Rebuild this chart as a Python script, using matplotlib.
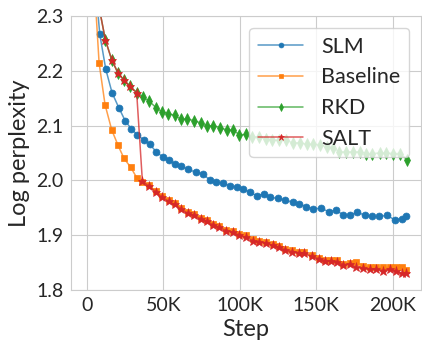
import matplotlib
matplotlib.use('agg')
import matplotlib.pyplot as plt
import seaborn as sns
from matplotlib.colors import to_rgba

sns.set_style("whitegrid")
plt.rcParams['font.family'] = ['Lato', 'DejaVu Sans']

# values
slm_steps = [4300, 8470, 12390, 16500, 20860, 25230, 29140, 33050, 37160, 41070, 45440,
             49540, 53650, 57820, 61730, 66040, 71250, 75820, 80180, 84550, 89310,
             93870, 98240, 102350, 106720, 111020, 115580, 119950, 124710, 129530,
             134490, 138850, 143220, 147990, 153000, 157960, 162780, 167740, 172100,
             176860, 181680, 186440, 191200, 196030, 201240, 206000, 208600]
slm = [2.40, 2.267, 2.203, 2.160, 2.133, 2.108, 2.094, 2.083, 2.074, 2.066, 2.052,
       2.043, 2.037, 2.029, 2.026, 2.020, 2.015, 2.012, 2.001, 1.997, 1.995,
       1.989, 1.988, 1.984, 1.978, 1.972, 1.975, 1.969, 1.967, 1.964,
       1.960, 1.957, 1.952, 1.948, 1.949, 1.943, 1.945, 1.937, 1.936,
       1.942, 1.936, 1.934, 1.934, 1.936, 1.928, 1.930, 1.934]

late_steps = [36310, 40610, 44980, 49090, 53460, 57370, 61740, 66040, 69950, 74320,
              78420, 82330, 86700, 91070, 95830, 99740, 104110, 108410, 112780, 117150,
              121450, 125360, 129730, 134100, 138400, 142120, 147130, 151440, 155800,
              159520, 163820, 167730, 171900, 176210, 180580, 184940, 189250, 193610,
              197980, 201890, 206200, 208420]

base_steps = [4000, 8040, 11930, 16300, 20410, 24320, 28680, 32590] + late_steps
baseline = [2.40, 2.214, 2.138, 2.092, 2.064, 2.040, 2.024, 2.005,
            1.997, 1.991, 1.980, 1.971, 1.964, 1.958, 1.949, 1.942, 1.938, 1.932,
            1.927, 1.921, 1.916, 1.910, 1.907, 1.902, 1.900, 1.893, 1.889, 1.888,
            1.883, 1.880, 1.875, 1.872, 1.870, 1.869, 1.863, 1.859, 1.855,
            1.855, 1.854, 1.848, 1.849, 1.850, 1.844, 1.841, 1.841, 1.841,
            1.841, 1.841, 1.841, 1.836]

early_steps = [4000, 8100, 12170, 16300, 20210, 24190, 28230, 32590]
early_vals = [2.60, 2.315, 2.256, 2.220, 2.197, 2.183, 2.172, 2.160]

rkd_steps = early_steps + [36700, 40620, 45180, 49090, 53000, 57370, 61280, 65650,
                           69950, 74320, 78430, 82790, 87160, 91460, 95830, 99740,
                           104100, 108020, 112780, 117150, 121060, 125360, 130180,
                           134490, 139310, 143610, 147980, 152350, 156650, 161020,
                           164930, 169300, 174060, 178420, 182730, 186640, 191460,
                           195760, 200130, 204500, 209260]
rkd = early_vals + [2.152, 2.145, 2.133, 2.125, 2.122, 2.119, 2.112, 2.112,
                    2.109, 2.105, 2.099, 2.100, 2.096, 2.092, 2.092, 2.083,
                    2.084, 2.079, 2.080, 2.075, 2.074, 2.073, 2.074,
                    2.068, 2.069, 2.066, 2.066, 2.065, 2.061, 2.060,
                    2.052, 2.052, 2.052, 2.052, 2.049, 2.049, 2.050,
                    2.050, 2.049, 2.049, 2.038]

salt_steps = early_steps + late_steps
salt = early_vals + [1.999, 1.989, 1.979, 1.969, 1.962, 1.956, 1.947, 1.940, 1.936, 1.930,
                     1.925, 1.919, 1.914, 1.908, 1.905, 1.900, 1.896, 1.890, 1.887, 1.886,
                     1.881, 1.878, 1.873, 1.870, 1.868, 1.867, 1.861, 1.857, 1.853,
                     1.853, 1.851, 1.846, 1.847, 1.841, 1.839, 1.838, 1.838, 1.835,
                     1.838, 1.835, 1.830, 1.830]

series = [
    ("SLM", slm_steps, slm, "#1f77b4", "o", 5),
    ("Baseline", base_steps, baseline, "#ff7f0e", "s", 5),
    ("RKD", rkd_steps, rkd, "#2ca02c", "d", 5.8),
    ("SALT", salt_steps, salt, "#d62728", "*", 6.5),
]

fig = plt.figure(figsize=(4.22, 3.43), dpi=100)
ax = fig.add_axes([0.168, 0.155, 0.83, 0.798])
for name, xs, ys, c, m, ms in series:
    ax.plot(xs, ys, label=name, color=to_rgba(c, 0.75), lw=1.1, marker=m, ms=ms,
            markerfacecolor=c, markeredgecolor=c, markeredgewidth=0.5)

ax.set_xlim(-10400, 218500)
ax.set_ylim(1.8, 2.3)
ax.set_xticks([0, 50000, 100000, 150000, 200000])
ax.set_xticklabels(["0", "50K", "100K", "150K", "200K"])
ax.set_yticks([1.8, 1.9, 2.0, 2.1, 2.2, 2.3])
ax.tick_params(labelsize=14, pad=2)
ax.set_xlabel("Step", fontsize=17, labelpad=3)
ax.set_ylabel("Log perplexity", fontsize=17, labelpad=4)
ax.legend(loc="upper right", fontsize=15.5, markerscale=0.7, handlelength=2.1,
          handletextpad=0.85, borderaxespad=0.55, labelspacing=0.5)

plt.savefig("out.png", dpi=100)
